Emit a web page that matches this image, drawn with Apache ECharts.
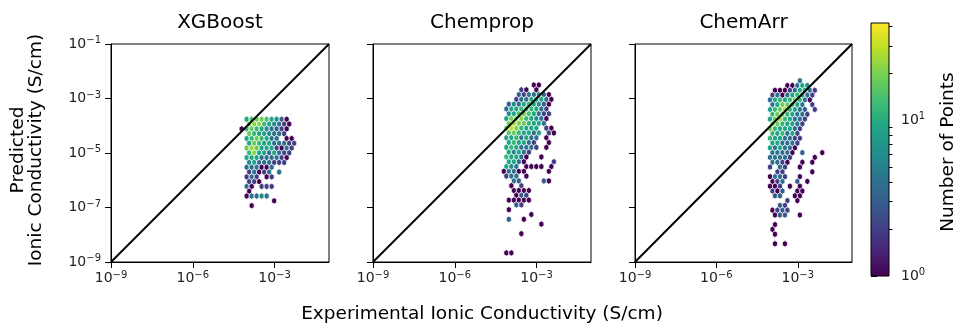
<!DOCTYPE html>
<html><head><meta charset="utf-8">
<script src="https://cdn.jsdelivr.net/npm/echarts@6/dist/echarts.min.js"></script>
<style>html,body{margin:0;padding:0;background:#fff}#c{width:959px;height:326px}</style>
</head><body><div id="c"></div>
<script>
// ---------- data ----------
const panelTitles = ['XGBoost', 'Chemprop', 'ChemArr'];
const xTickValues = [-9, -6, -3];          // log10(S/cm)
const yTickValues = [-9, -7, -5, -3, -1];  // log10(S/cm)
const axisRange = [-9, -1];                // log10 extent of both axes
const identityLine = [-9, -1];             // y = x reference line
const colorbarMaxCount = 42;
const colorbarMajor = [1, 10];
const colorbarMinor = [2, 3, 4, 5, 6, 7, 8, 9, 20, 30, 40];
// hex-bin lattice (log10 units): column step, row step; odd rows shifted by half a column
const binDX = 0.1835, binDY = 0.176;
const xgbOrigin = [-4.205, -3.763];
const chempropOrigin = [-4.381, -2.505];
const chemarrOrigin = [-4.023, -2.347];
// counts per hex cell, one array per lattice row (top to bottom), 0 = empty
const xgbCounts = [
  [0,9,14,18,18,14,9,6,3,1],
  [0,20,22,22,12,9,6,4,2,1],
  [1,12,18,12,9,6,4,3,2,1],
  [0,18,12,9,9,6,4,4,2],
  [0,9,12,18,12,9,4,4,0,1,1],
  [0,9,18,12,9,9,4,4,4,2,2],
  [0,18,24,18,9,9,9,2,1,4,2],
  [0,12,22,9,9,4,9,4,2,2],
  [0,9,9,9,4,4,4,4,2,1],
  [0,6,9,4,4,4,2,2,2],
  [0,4,4,4,1,1,4],
  [0,2,4,1,2,4,0,4],
  [0,2,4,2,0,1,2],
  [0,2,2,1],
  [0,4,1,0,2,2,2],
  [0,1],
  [0,1,4,4,6,4],
  [0,0,0,0,0,0,1],
  [0,0,1]
];
const chempropCounts = [
  [0,0,0,0,0,0,0,1,1],
  [0,0,0,0,2,1,0,1],
  [0,0,0,0,3,2,4,4,6,3,1],
  [0,0,0,2,4,4,9,9,9,4,1],
  [0,0,3,6,4,9,12,9,6,3,1],
  [0,4,9,9,12,14,12,9,4,2],
  [0,0,6,9,14,18,14,9,4,2,2],
  [0,9,18,20,22,12,9,6,4,1],
  [0,0,20,26,20,18,12,9,9,4],
  [0,18,30,20,12,9,9,9,0,2,1],
  [0,0,16,18,12,9,9,4,9,0,2,1],
  [0,9,9,12,4,9,4,4,0,1],
  [0,0,9,12,9,9,4,2,0,0,1],
  [0,9,12,9,4,4,4,2,0,1],
  [0,0,9,6,9,4,2],
  [0,12,9,9,4,1,0,0,1],
  [0,0,9,9,4,1,0,0,0,0,0,2],
  [0,9,6,4,0,1,1,1,1,0,1],
  [0,1,4,4,1,1,0,0,0,0,1],
  [0,2,4,4,0,1],
  [0,0,0,4,3,0,0,0,0,3,1],
  [0,0,1,0,2],
  [0,0,0,1,1,1,1],
  [0,0,0,1,3,2],
  [0,0,1,1,1,1,1],
  [0,0,0,3,2],
  [0,0,1],
  [0,0,0,0,0,0,1],
  [0,0,3,0,0,1],
  [0,0,0,0,0,0,0,0,1],
  [],
  [0,0,0,0,1],
  [],
  [],
  [],
  [0,1,1]
];
const chemarrCounts = [
  [0,0,0,0,0,0,4],
  [0,0,0,1,1,4,9,6],
  [0,1,1,1,2,4,9,9,4,2],
  [2,4,1,4,9,12,9,4,2],
  [4,9,12,9,12,18,12,4,1],
  [4,9,18,18,12,9,4,0,2],
  [9,12,18,24,12,9,4,3,0,2],
  [12,18,18,12,9,4,4,2],
  [9,18,24,12,9,4,4,2],
  [22,18,12,9,9,4,2],
  [20,12,9,9,9,4,2],
  [12,9,12,4,9,2],
  [12,9,9,4,4,2,2],
  [9,9,4,4,4,2],
  [9,4,9,4,4,1],
  [4,4,4,4,1,0,3,0,0,0,1],
  [4,4,4,4,2,0,0,0,0,1],
  [4,4,2,1,0,0,1,0,1],
  [2,0,4,2,0,0,1],
  [0,2,2,0,0,0,0,0,1],
  [1,4,4,2,0,0,1],
  [1,2,4,0,0,3,0,1],
  [1,1,2,0,1,0,1],
  [2,1,3,0,0,1,1],
  [0,3,3,0,0,1,1],
  [0,0,0,2,0,1],
  [0,0,3,2],
  [1,2,3,2],
  [0,1,3,3,0,0,1],
  [],
  [0,1],
  [1],
  [0,1],
  [],
  [0,1,0,1]
];

// ---------- build ----------
const FONT = '"DejaVu Sans", "Noto Sans", sans-serif';
const viridis = ['#440154','#482475','#414487','#355f8d','#2a788e','#21918c','#22a884','#44bf70','#7ad151','#bddf26','#fde725'];
const logMax = Math.log10(colorbarMaxCount);

function cells(counts, origin) {
  const out = [];
  counts.forEach((row, r) => row.forEach((n, c) => {
    if (n > 0) {
      const x = origin[0] + c * binDX + (r % 2 ? binDX / 2 : 0);
      const y = origin[1] - r * binDY;
      out.push([x, y, n, Math.log10(n)]);
    }
  }));
  return out;
}
const panelData = [cells(xgbCounts, xgbOrigin), cells(chempropCounts, chempropOrigin), cells(chemarrCounts, chemarrOrigin)];

function hexItem(params, api) {
  const x = api.value(0), y = api.value(1);
  const hw = binDX / 2, s = binDY / 3, t = 2 * binDY / 3;
  const pts = [[x + hw, y - s], [x + hw, y + s], [x, y + t], [x - hw, y + s], [x - hw, y - s], [x, y - t]].map(p => api.coord(p));
  return { type: 'polygon', shape: { points: pts }, style: { fill: api.visual('color'), stroke: '#ffffff', lineWidth: 0.7 } };
}

const sup = v => '{b|10}{s|' + (v < 0 ? '\u2212' + (-v) : String(v)) + '}';
const richTick = {
  b: { fontSize: 14, fontFamily: FONT, color: '#222' },
  s: { fontSize: 10, fontFamily: FONT, color: '#222', padding: [0, 0, 7, 0] }
};

const gridPos = [
  { left: 111, top: 44, width: 218, height: 218 },
  { left: 373, top: 44, width: 218, height: 218 },
  { left: 635, top: 44, width: 217, height: 218 }
];
const grids = gridPos.map(g => Object.assign({ show: true, borderColor: '#000', borderWidth: 1, backgroundColor: '#fff' }, g));
grids.push({ left: 871, top: 23, width: 18, height: 253, show: false });

const xAxes = [0, 1, 2].map(i => ({
  type: 'value', gridIndex: i, min: axisRange[0], max: axisRange[1],
  axisLine: { show: true, onZero: false, lineStyle: { color: '#000', width: 1 } },
  axisTick: { show: true, length: 6, customValues: xTickValues, lineStyle: { color: '#000' } },
  axisLabel: { show: true, customValues: xTickValues, margin: 8, formatter: sup, rich: richTick },
  splitLine: { show: false }
}));
xAxes.push({ type: 'value', gridIndex: 3, min: 0, max: 1, show: false });

const yAxes = [0, 1, 2].map(i => ({
  type: 'value', gridIndex: i, min: axisRange[0], max: axisRange[1],
  axisLine: { show: true, onZero: false, lineStyle: { color: '#000', width: 1 } },
  axisTick: { show: true, length: 6, customValues: yTickValues, lineStyle: { color: '#000' } },
  axisLabel: { show: i === 0, customValues: yTickValues, margin: 10, formatter: sup, rich: richTick },
  splitLine: { show: false }
}));
yAxes.push({
  type: 'value', gridIndex: 3, min: 0, max: logMax, position: 'right',
  axisLine: { show: false },
  axisTick: { show: true, length: 6, customValues: colorbarMajor.map(Math.log10), lineStyle: { color: '#000' } },
  axisLabel: { show: true, customValues: colorbarMajor.map(Math.log10), margin: 12, formatter: v => sup(Math.round(v)), rich: richTick },
  splitLine: { show: false }
});
yAxes.push({
  type: 'value', gridIndex: 3, min: 0, max: logMax, position: 'right',
  axisLine: { show: false },
  axisTick: { show: true, length: 3.5, customValues: colorbarMinor.map(Math.log10), lineStyle: { color: '#000' } },
  axisLabel: { show: false },
  splitLine: { show: false }
});

const series = [];
panelData.forEach((d, i) => series.push({
  type: 'custom', xAxisIndex: i, yAxisIndex: i, data: d, encode: { x: 0, y: 1 },
  renderItem: hexItem, clip: true, z: 2, silent: true
}));
[0, 1, 2].forEach(i => series.push({
  type: 'line', xAxisIndex: i, yAxisIndex: i, data: [[identityLine[0], identityLine[0]], [identityLine[1], identityLine[1]]],
  symbol: 'none', lineStyle: { color: '#000', width: 2 }, z: 5, silent: true, animation: false
}));
series.push({
  type: 'custom', xAxisIndex: 3, yAxisIndex: 3, data: [[0, 0, 1, logMax]], silent: true, z: 1,
  renderItem: (params, api) => {
    const p0 = api.coord([api.value(0), api.value(1)]);
    const p1 = api.coord([api.value(2), api.value(3)]);
    const stops = viridis.map((c, k) => ({ offset: k / (viridis.length - 1), color: c }));
    return { type: 'rect', shape: { x: p0[0], y: p1[1], width: p1[0] - p0[0], height: p0[1] - p1[1] },
      style: { fill: new echarts.graphic.LinearGradient(0, 1, 0, 0, stops), stroke: '#000', lineWidth: 1 } };
  }
});

const graphic = [];
gridPos.forEach((g, i) => graphic.push({
  type: 'text', x: g.left + g.width / 2, y: 23,
  style: { text: panelTitles[i], fontSize: 20, fontFamily: FONT, fill: '#000', align: 'center', verticalAlign: 'middle' }
}));
graphic.push({ type: 'text', x: 482, y: 314,
  style: { text: 'Experimental Ionic Conductivity (S/cm)', fontSize: 18.5, fontFamily: FONT, fill: '#000', align: 'center', verticalAlign: 'middle' } });
graphic.push({ type: 'text', x: 27, y: 150, rotation: Math.PI / 2,
  style: { text: 'Predicted\nIonic Conductivity (S/cm)', fontSize: 18.5, lineHeight: 18, fontFamily: FONT, fill: '#000', align: 'center', verticalAlign: 'middle' } });
graphic.push({ type: 'text', x: 948, y: 152, rotation: Math.PI / 2,
  style: { text: 'Number of Points', fontSize: 18.5, fontFamily: FONT, fill: '#000', align: 'center', verticalAlign: 'middle' } });

const chart = echarts.init(document.getElementById('c'), null, { renderer: 'canvas' });
chart.setOption({
  animation: false,
  backgroundColor: '#fff',
  grid: grids,
  xAxis: xAxes,
  yAxis: yAxes,
  visualMap: { type: 'continuous', show: false, seriesIndex: [0, 1, 2], dimension: 3, min: 0, max: logMax, inRange: { color: viridis } },
  series: series,
  graphic: graphic
});
</script></body></html>
